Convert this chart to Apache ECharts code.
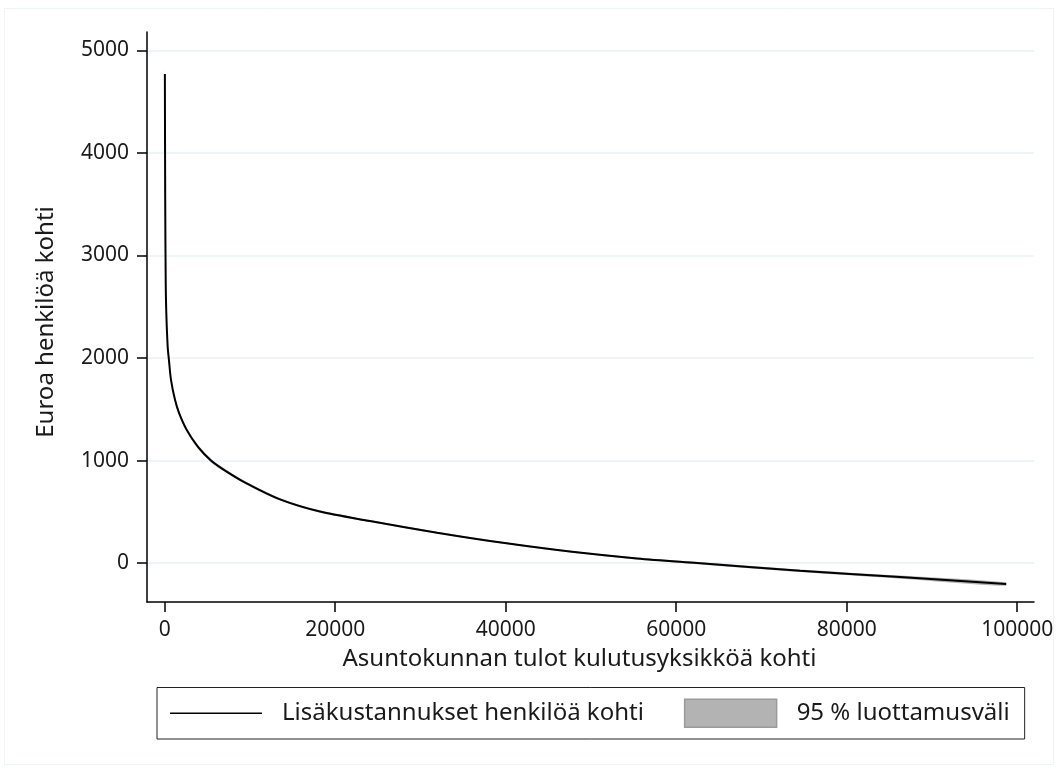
<!DOCTYPE html>
<html>
<head>
<meta charset="utf-8">
<script src="https://cdn.jsdelivr.net/npm/echarts@6/dist/echarts.min.js"></script>
<style>
html,body{margin:0;padding:0;background:#fff;}
#chart{width:1058px;height:769px;}
</style>
</head>
<body>
<div id="chart"></div>
<script>
// ---- data ----
const income = [20, 60, 117, 188, 352, 504, 739, 1208, 1677, 2580, 3906, 5430, 6900, 9500, 13530, 18220, 24080, 31940, 39680, 47540, 55400, 62500, 74520, 86250, 98690];
const estimate = [4770, 3550, 2764, 2441, 2109, 1975, 1787, 1592, 1465, 1299, 1133, 1000, 912, 782, 621, 502, 410, 296, 197, 112, 45, 0, -75, -137, -205];
const ciHalf = [60, 50, 40, 35, 30, 28, 26, 24, 22, 20, 18, 16, 15, 14, 12, 11, 10, 9, 9, 9, 10, 11, 13, 15, 17];
const ciLower = estimate.map((v, i) => v - ciHalf[i]);
const ciUpper = estimate.map((v, i) => v + ciHalf[i]);
const yTicks = [0, 1000, 2000, 3000, 4000, 5000];
const xTicks = [0, 20000, 40000, 60000, 80000, 100000];
const seriesNames = ['Lisäkustannukset henkilöä kohti', '95 % luottamusväli'];
const xTitle = 'Asuntokunnan tulot kulutusyksikköä kohti';
const yTitle = 'Euroa henkilöä kohti';

const FONT = 'Noto Sans';
const TXT = '#1a1a1a';
const chart = echarts.init(document.getElementById('chart'), null, {renderer: 'canvas'});

const bandData = income.map((x, i) => [x, ciLower[i], ciUpper[i]]);
const plain = v => String(v);

chart.setOption({
  animation: false,
  backgroundColor: '#ffffff',
  graphic: [{
    type: 'rect', shape: {x: 4.5, y: 8.5, width: 1049, height: 756},
    style: {fill: 'none', stroke: '#eef3f3', lineWidth: 1}, silent: true, z: -1
  }],
  grid: {left: 147, right: 24, top: 32, bottom: 167, containLabel: false},
  xAxis: {
    type: 'value', min: -2076, max: 101970,
    name: xTitle, nameLocation: 'middle', nameGap: 45,
    nameTextStyle: {fontFamily: FONT, fontSize: 24, color: TXT, padding: [0, 22, 0, 0]},
    axisLine: {show: true, onZero: false, lineStyle: {color: '#000', width: 1.5}},
    axisTick: {show: true, length: 10, customValues: xTicks, lineStyle: {color: '#000', width: 1.5}},
    axisLabel: {customValues: xTicks, formatter: plain, fontFamily: FONT, fontSize: 21, color: TXT, margin: 18},
    splitLine: {show: false}
  },
  yAxis: {
    type: 'value', min: -380, max: 5180,
    name: yTitle, nameLocation: 'middle', nameGap: 89, nameRotate: 90,
    nameTextStyle: {fontFamily: FONT, fontSize: 24, color: TXT, padding: [0, 10, 0, 0]},
    axisLine: {show: true, onZero: false, lineStyle: {color: '#000', width: 1.5}},
    axisTick: {show: true, length: 10, customValues: yTicks, lineStyle: {color: '#000', width: 1.5}},
    axisLabel: {customValues: yTicks, formatter: plain, fontFamily: FONT, fontSize: 21, color: TXT, margin: 18},
    splitLine: {show: true, lineStyle: {color: '#eaf2f3', width: 1.5}}
  },
  legend: {
    left: 157, bottom: 30,
    orient: 'horizontal',
    padding: [11, 15, 11, 13],
    borderColor: '#222', borderWidth: 1,
    itemGap: 40, itemWidth: 92, itemHeight: 28,
    textStyle: {fontFamily: FONT, fontSize: 24, color: TXT, padding: [0, 0, 0, 15]},
    data: [
      {name: seriesNames[0], icon: 'path://M0,0 L92,0 L92,1.6 L0,1.6 Z', itemStyle: {color: '#000', borderWidth: 0}},
      {name: seriesNames[1], icon: 'rect', itemStyle: {color: '#b3b3b3', borderColor: '#9a9a9a', borderWidth: 1.5}}
    ]
  },
  series: [
    {
      name: seriesNames[1],
      type: 'custom',
      z: 1,
      itemStyle: {color: '#b3b3b3'},
      data: bandData,
      renderItem: function (params, api) {
        if (params.dataIndex !== 0) return null;
        const pts = [];
        for (let i = 0; i < bandData.length; i++) pts.push(api.coord([bandData[i][0], bandData[i][2]]));
        for (let i = bandData.length - 1; i >= 0; i--) pts.push(api.coord([bandData[i][0], bandData[i][1]]));
        return {type: 'polygon', shape: {points: pts, smooth: 0.3}, style: {fill: '#b3b3b3', stroke: 'none'}};
      }
    },
    {
      name: seriesNames[0],
      type: 'line',
      z: 3,
      symbol: 'none',
      smooth: 0.3,
      lineStyle: {color: '#000', width: 2},
      itemStyle: {color: '#000'},
      data: income.map((x, i) => [x, estimate[i]])
    }
  ]
});
</script>
</body>
</html>
